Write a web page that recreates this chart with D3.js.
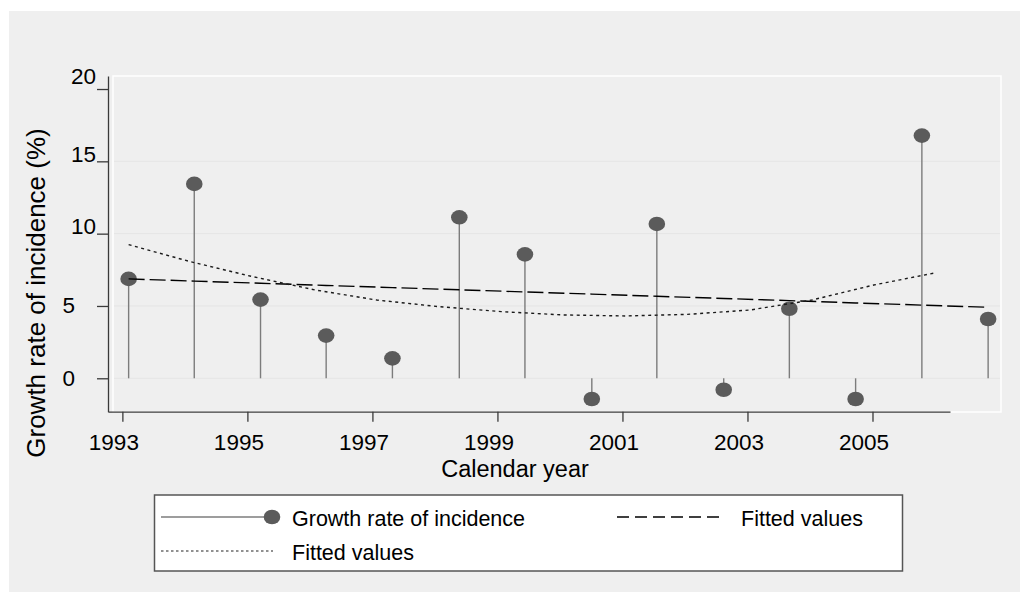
<!DOCTYPE html>
<html>
<head>
<meta charset="utf-8">
<script src="https://cdn.jsdelivr.net/npm/d3@7/dist/d3.min.js"></script>
<style>
  body { margin: 0; background: #fff; }
  svg text { font-family: "Liberation Sans", Arial, Helvetica, sans-serif; fill: #000; }
</style>
</head>
<body>
<div id="chart"></div>
<script>
// values
const years = [1993.10, 1994.15, 1995.21, 1996.26, 1997.32, 1998.39, 1999.44,
               2000.51, 2001.55, 2002.62, 2003.67, 2004.73, 2005.79, 2006.85];
const growth = [6.87, 13.44, 5.44, 2.95, 1.38, 11.13, 8.57,
                -1.43, 10.67, -0.79, 4.81, -1.43, 16.78, 4.10];
// linear fit (dashed), one value per observation
const linearFit = [6.87, 6.72, 6.57, 6.42, 6.27, 6.12, 5.97,
                   5.82, 5.67, 5.52, 5.37, 5.21, 5.06, 4.91];
// quadratic fit (dotted), drawn on its own x grid
const quadYears = [1993.10, 1994.09, 1995.08, 1996.08, 1997.07, 1998.07, 1999.06,
                   2000.05, 2001.05, 2002.04, 2003.04, 2004.03, 2005.02, 2006.02];
const quadFit = [9.24, 8.06, 7.03, 6.11, 5.41, 4.95, 4.61,
                 4.38, 4.31, 4.42, 4.72, 5.41, 6.45, 7.30];
const xTicks = [1993, 1995, 1997, 1999, 2001, 2003, 2005];
const yTicks = [0, 5, 10, 15, 20];
const legendLabels = ["Growth rate of incidence", "Fitted values", "Fitted values"];

const W = 1020, H = 592;
const svg = d3.select("#chart").append("svg")
    .attr("width", W)
    .attr("height", H);

// outer grey panel
svg.append("rect")
    .attr("x", 9).attr("y", 11)
    .attr("width", W - 9).attr("height", H - 11)
    .attr("fill", "#efefef");

// plot region with white outline
svg.append("rect")
    .attr("x", 113).attr("y", 76)
    .attr("width", 888).attr("height", 336)
    .attr("fill", "#efefef")
    .attr("stroke", "#fff")
    .attr("stroke-width", 1.5);

// scales
const x = d3.scaleLinear().domain([1992.77, 2006.24]).range([108, 950]);
const y = d3.scaleLinear().domain([-2.31, 20.9]).range([411.7, 76]);

// faint horizontal grid
svg.append("g").selectAll("line")
  .data(yTicks.filter(d => d < 20))
  .join("line")
    .attr("x1", 114).attr("x2", 1000)
    .attr("y1", d => y(d)).attr("y2", d => y(d))
    .attr("stroke", "#e5e5e5")
    .attr("stroke-width", 1);

// X axis
const xAxis = svg.append("g")
    .attr("transform", "translate(0," + y.range()[0] + ")")
    .call(d3.axisBottom(x).tickValues(xTicks).tickFormat(d3.format("d"))
      .tickSize(10).tickSizeOuter(0));
xAxis.selectAll("text")
    .attr("x", -9).attr("y", 38).attr("dy", 0)
    .attr("font-size", "22.5px");

// Y axis
const yAxis = svg.append("g")
    .attr("transform", "translate(" + x.range()[0] + ",0)")
    .call(d3.axisLeft(y).tickValues(yTicks).tickSize(11).tickSizeOuter(0));
// labels sit a bit oddly in the original, two-digit ones above their ticks
yAxis.selectAll("text")
    .attr("x", d => d >= 10 ? -12 : -33)
    .attr("dy", 0)
    .attr("y", d => d >= 20 ? -6 : d >= 10 ? 0 : 7)
    .attr("font-size", "22.5px");

svg.selectAll(".domain, .tick line")
    .attr("stroke", "#3a3a3a")
    .attr("stroke-width", 1.3);

// axis titles
svg.append("text")
    .attr("x", 515).attr("y", 477)
    .attr("text-anchor", "middle")
    .attr("font-size", "23.5px")
    .text("Calendar year");

svg.append("text")
    .attr("transform", "translate(45,293) rotate(-90)")
    .attr("text-anchor", "middle")
    .attr("font-size", "26px")
    .text("Growth rate of incidence (%)");

// stems + markers
const pts = years.map((yr, i) => ({ yr, v: growth[i] }));
svg.append("g").selectAll("line")
  .data(pts)
  .join("line")
    .attr("x1", d => x(d.yr)).attr("x2", d => x(d.yr))
    .attr("y1", y(0)).attr("y2", d => y(d.v))
    .attr("stroke", "#7c7c7c")
    .attr("stroke-width", 1.4);

svg.append("g").selectAll("ellipse")
  .data(pts)
  .join("ellipse")
    .attr("cx", d => x(d.yr)).attr("cy", d => y(d.v))
    .attr("rx", 8.3).attr("ry", 7.3)
    .attr("fill", "#5b5b5b");

// fitted lines on top
const line = d3.line().x(d => x(d[0])).y(d => y(d[1]));

svg.append("path")
    .datum(years.map((yr, i) => [yr, linearFit[i]]))
    .attr("d", line)
    .attr("fill", "none")
    .attr("stroke", "#000")
    .attr("stroke-width", 1.4)
    .attr("stroke-dasharray", "16,5");

svg.append("path")
    .datum(quadYears.map((yr, i) => [yr, quadFit[i]]))
    .attr("d", line)
    .attr("fill", "none")
    .attr("stroke", "#1a1a1a")
    .attr("stroke-width", 1.4)
    .attr("stroke-dasharray", "3,3.5");

// legend
const legend = svg.append("g");
legend.append("rect")
    .attr("x", 154.5).attr("y", 495)
    .attr("width", 748).attr("height", 76)
    .attr("fill", "#fff")
    .attr("stroke", "#555")
    .attr("stroke-width", 1.5);

// row 1: stem + marker
legend.append("line")
    .attr("x1", 161).attr("x2", 272).attr("y1", 517).attr("y2", 517)
    .attr("stroke", "#7c7c7c").attr("stroke-width", 1.4);
legend.append("ellipse")
    .attr("cx", 272).attr("cy", 517).attr("rx", 8.3).attr("ry", 7.3)
    .attr("fill", "#5b5b5b");
// row 1 right: dashed
legend.append("line")
    .attr("x1", 617).attr("x2", 724).attr("y1", 517).attr("y2", 517)
    .attr("stroke", "#000").attr("stroke-width", 1.3)
    .attr("stroke-dasharray", "12,6");
// row 2: dotted
legend.append("line")
    .attr("x1", 161).attr("x2", 273).attr("y1", 551).attr("y2", 551)
    .attr("stroke", "#222").attr("stroke-width", 1.1)
    .attr("stroke-dasharray", "2.5,2.5");

const legendPos = [
  { x: 292, y: 526 },
  { x: 741, y: 526 },
  { x: 292, y: 560 }
];
legend.selectAll("text")
  .data(legendLabels)
  .join("text")
    .attr("x", (d, i) => legendPos[i].x)
    .attr("y", (d, i) => legendPos[i].y)
    .attr("font-size", "21.5px")
    .text(d => d);
</script>
</body>
</html>
